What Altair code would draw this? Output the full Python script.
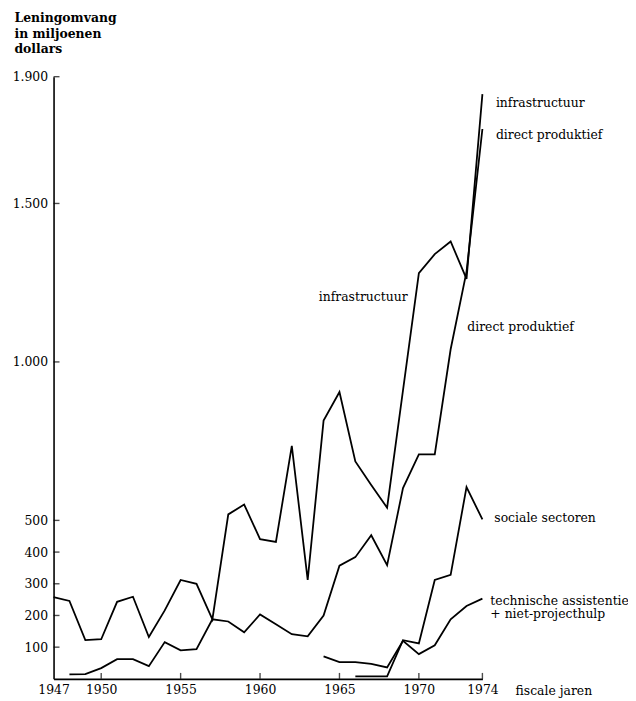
import altair as alt
import pandas as pd

# ---- data ----
years = list(range(1947, 1975))
infrastructuur = [258, 246, 122, 125, 243, 259, 132, 216, 312, 300, 188, 519, 550, 441,
                  432, 735, 312, 815, 905, 686, 612, 540, 910, 1280, 1340, 1380, 1262, 1845]
direct_produktief = [None, 14, 15, 34, 62, 62, 40, 116, 90, 94, 188, 181, 147, 203,
                     172, 141, 134, 200, 357, 384, 453, 359, 602, 708, 708, 1040, 1285, 1735]
sociale_sectoren = [None] * 19 + [8, 8, 8, 122, 112, 312, 328, 605, 503]
technische_assistentie = [None] * 17 + [71, 53, 53, 47, 36, 120, 78, 106, 188, 230, 253]

x_tick_labels = [1947, 1950, 1955, 1960, 1965, 1970, 1974]
x_tick_marks = [1950, 1955, 1960, 1965, 1970, 1974]
y_tick_labels = [100, 200, 300, 400, 500, 1000, 1500, 1900]

label_texts = ["infrastructuur", "direct produktief", "infrastructuur",
               "direct produktief", "sociale sectoren", "technische assistentie",
               "+ niet-projecthulp"]
label_years = [1974.85, 1974.85, 1963.7, 1973.05, 1974.75, 1974.5, 1974.5]
label_values = [1816, 1716, 1206, 1109, 506, 247, 205]

y_title = ["Leningomvang", "in miljoenen", "dollars"]
x_title = "fiscale jaren"

# ---- tables ----
series = {
    "infrastructuur": infrastructuur,
    "direct produktief": direct_produktief,
    "sociale sectoren": sociale_sectoren,
    "technische assistentie": technische_assistentie,
}
rows = []
for name, vals in series.items():
    for yr, v in zip(years, vals):
        if v is not None:
            rows.append({"jaar": yr, "waarde": v, "reeks": name})
df = pd.DataFrame(rows)

xt_df = pd.DataFrame({"jaar": x_tick_marks, "waarde": [0] * len(x_tick_marks)})
yt_df = pd.DataFrame({"jaar": [1947] * len(y_tick_labels), "waarde": y_tick_labels})
lab_df = pd.DataFrame({"jaar": label_years, "waarde": label_values, "tekst": label_texts})

FONT = "DejaVu Serif"
FS = 12.5

xs = alt.Scale(domain=[1947, 1974], nice=False, zero=False)
ys = alt.Scale(domain=[0, 1900], nice=False, zero=True)

x_axis = alt.Axis(
    values=x_tick_labels, format="d", ticks=False, grid=False,
    domainColor="black", domainWidth=1.6,
    labelFont=FONT, labelFontSize=FS, labelColor="black", labelPadding=5,
    labelFlush=False, labelOverlap=False,
    title=x_title, titleAngle=0, titleX=466, titleY=12, titleAlign="left",
    titleBaseline="middle", titleFont=FONT, titleFontSize=FS,
    titleFontWeight="normal", titleColor="black",
)
y_axis = alt.Axis(
    values=y_tick_labels, ticks=False, grid=False,
    domainColor="black", domainWidth=1.6,
    labelExpr="replace(format(datum.value, ','), ',', '.')",
    labelFont=FONT, labelFontSize=FS, labelColor="black", labelPadding=6,
    labelOverlap=False, labelFlush=False,
    title=y_title, titleAngle=0, titleX=-40, titleY=-66, titleAlign="left",
    titleBaseline="top", titleFont=FONT, titleFontSize=12.5, titleFontWeight="bold",
    titleColor="black", titleLineHeight=16,
)

lines = alt.Chart(df).mark_line(color="black", strokeWidth=1.8).encode(
    detail="reeks:N",
)

xticks = alt.Chart(xt_df).mark_tick(
    color="black", orient="vertical", size=6, thickness=1.4, yOffset=-3
)

yticks = alt.Chart(yt_df).mark_tick(
    color="black", orient="horizontal", size=6, thickness=1.4, xOffset=3
)

labels = alt.Chart(lab_df).mark_text(
    font=FONT, fontSize=FS, color="black", align="left", baseline="middle"
).encode(
    text="tekst:N",
)

chart = alt.layer(lines, xticks, yticks, labels).encode(
    x=alt.X("jaar:Q", scale=xs, axis=x_axis),
    y=alt.Y("waarde:Q", scale=ys, axis=y_axis),
).properties(
    width=433, height=608,
    autosize=alt.AutoSizeParams(type="none"),
    padding={"left": 46, "top": 66, "right": 147, "bottom": 18},
    view=alt.ViewBackground(strokeOpacity=0, strokeWidth=0),
).configure_view(strokeWidth=0, strokeOpacity=0).configure(background="white")

chart.save("out.html", embed_options={"renderer": "svg", "actions": False})
